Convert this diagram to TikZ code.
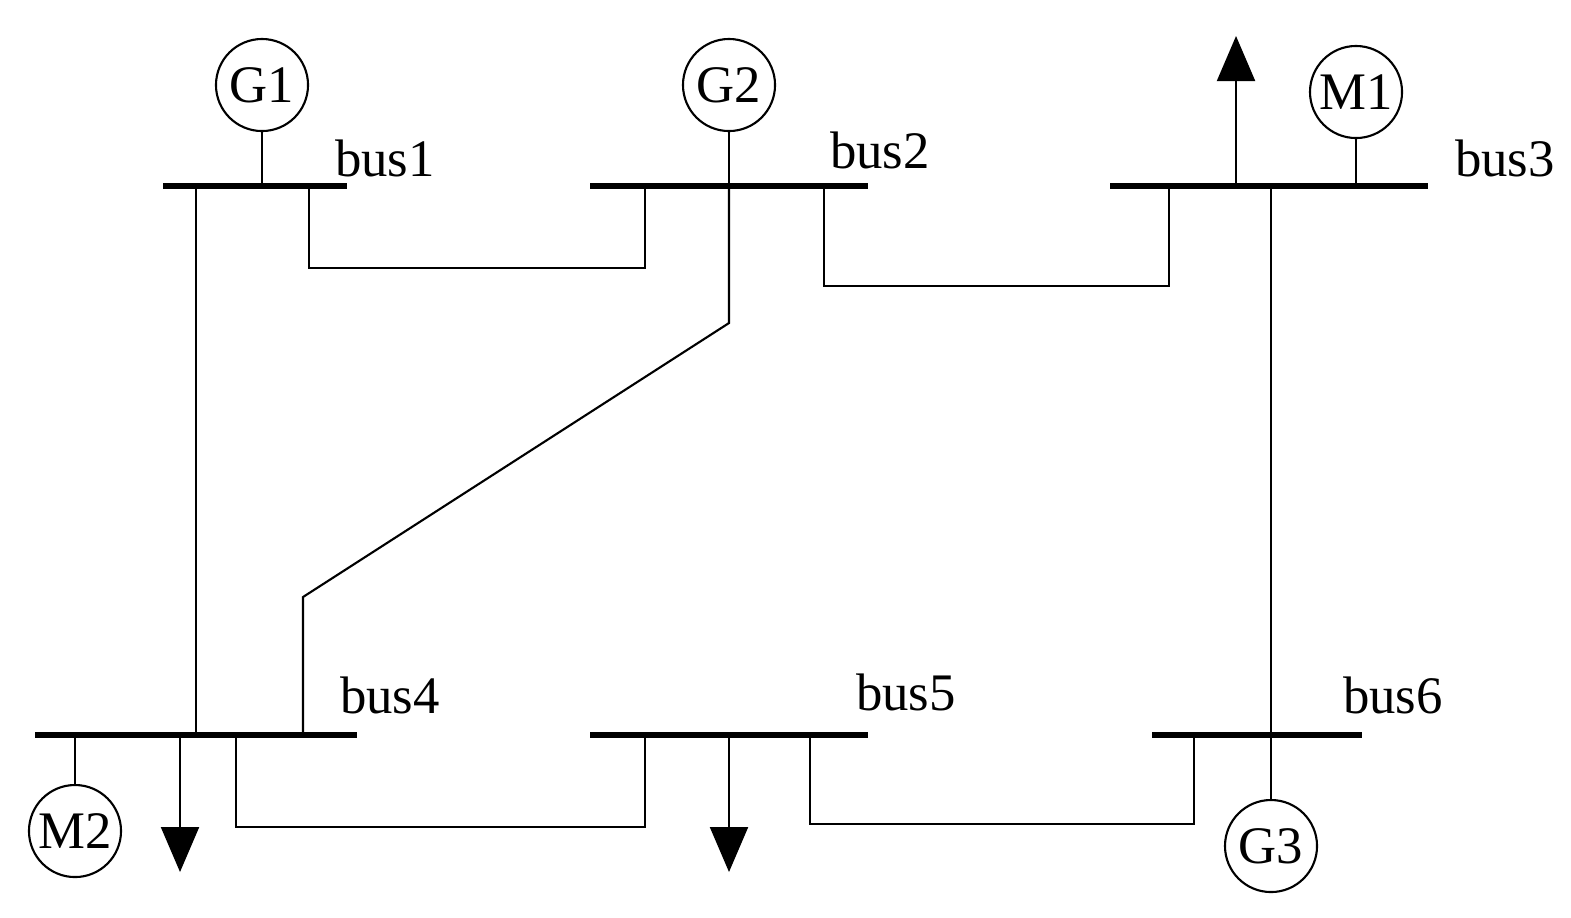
\documentclass[tikz,border=0pt]{standalone}
\usepackage{fontspec}
\setmainfont{Liberation Serif}
\usetikzlibrary{arrows.meta}
\begin{document}
\begin{tikzpicture}[x=0.01cm,y=-0.01cm,
  line/.style={line width=0.6pt},
  bar/.style={line width=1.5pt},
  mach/.style={circle,draw,line width=0.6pt,minimum size=0.92cm,inner sep=0pt,font=\fontsize{15}{17}\selectfont},
  lbl/.style={font=\fontsize{15}{17}\selectfont},
  load/.style={line width=0.6pt,-{Triangle[length=0.45cm,width=0.38cm]}}]
\useasboundingbox (0,0) rectangle (1571,917);
% buses
\coordinate (b1l) at (163,186); \coordinate (b1r) at (347,186);
\coordinate (b2l) at (590,186); \coordinate (b2r) at (868,186);
\coordinate (b3l) at (1110,186); \coordinate (b3r) at (1428,186);
\coordinate (b4l) at (35,735); \coordinate (b4r) at (357,735);
\coordinate (b5l) at (590,735); \coordinate (b5r) at (868,735);
\coordinate (b6l) at (1152,735); \coordinate (b6r) at (1362,735);
\draw[bar] (b1l)--(b1r); \draw[bar] (b2l)--(b2r); \draw[bar] (b3l)--(b3r);
\draw[bar] (b4l)--(b4r); \draw[bar] (b5l)--(b5r); \draw[bar] (b6l)--(b6r);
\node[lbl] (l1) at (385,158) {bus1};
\node[lbl] (l2) at (880,150) {bus2};
\node[lbl] (l3) at (1505,158) {bus3};
\node[lbl] (l4) at (390,695) {bus4};
\node[lbl] (l5) at (906,692) {bus5};
\node[lbl] (l6) at (1393,695) {bus6};
% machines
\node[mach] (G1) at (262,85) {G1};
\node[mach] (G2) at (729,85) {G2};
\node[mach] (M1) at (1356,92) {M1};
\node[mach] (M2) at (75,831) {M2};
\node[mach] (G3) at (1271,846) {G3};
\draw[line] (G1) -- (262,186);
\draw[line] (G2) -- (729,186);
\draw[line] (M1) -- (1356,186);
\draw[line] (M2) -- (75,735);
\draw[line] (G3) -- (1271,186);
% loads
\draw[load] (1236,186) -- (1236,36);
\draw[load] (180,735) -- (180,872);
\draw[load] (729,735) -- (729,872);
% lines
\draw[line] (309,186) |- (645,268) -- (645,186);
\draw[line] (824,186) |- (1169,286) -- (1169,186);
\draw[line] (196,186) -- (196,735);
\draw[line] (729,186) -- (729,323) -- (303,597) -- (303,735);
\draw[line] (236,735) |- (645,827) -- (645,735);
\draw[line] (810,735) |- (1194,824) -- (1194,735);
\end{tikzpicture}
\end{document}
